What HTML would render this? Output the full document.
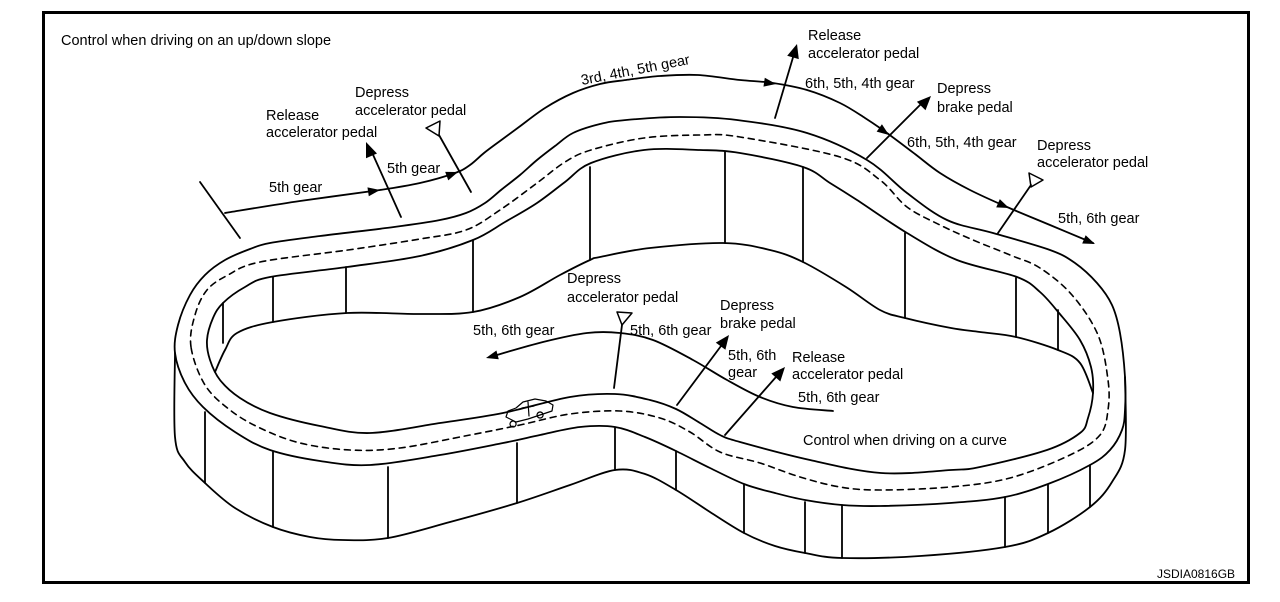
<!DOCTYPE html>
<html><head><meta charset="utf-8"><style>
html,body{margin:0;padding:0;background:#fff;}
svg{display:block;}
text{font-family:"Liberation Sans",Arial,sans-serif;font-size:14.5px;fill:#000;}
</style></head><body>
<svg id="sv" width="1280" height="602" viewBox="0 0 1280 602" xmlns="http://www.w3.org/2000/svg">
<defs>
<path id="ah" d="M0,0 L-12,-4.5 L-12,4.5 Z" fill="#000"/>
</defs>
<rect x="43.5" y="12.5" width="1205" height="570" fill="none" stroke="#000" stroke-width="3"/>
<g fill="none" stroke="#000" stroke-width="1.8" stroke-linejoin="round" stroke-linecap="round">
<polygon class="s" points="175,353 178,325 190,295 205,275 225,260 250,249 270,243 320,236 394,227 440,220 466,213 485,203 501,190 520,175 537,160 555,146 573,133 600,124 626,120 680,117 737,120 807,133 867,160 907,193 947,220 993,233 1050,250 1075,263 1097,283 1112,305 1120,333 1125,377 1125,410 1122,430 1110,450 1090,465 1048,484 1005,497 950,503 880,506 842,505 805,500 775,493 744,484 710,468 676,451 645,437 615,427 580,427 540,435 503,443 440,455 370,465 320,461 270,450 235,432 203,407 185,383"/>
<polygon class="s" points="207,340 213,318 223,303 245,287 270,277 347,267 420,256 473,240 505,222 537,203 565,182 591,163 644,150 700,150 740,153 803,167 830,183 857,200 907,233 957,260 1017,277 1040,292 1059,313 1080,340 1091,367 1093,393 1088,418 1080,433 1047,450 980,467 951,470 881,473 810,460 740,442 720,435 700,423 676,409 650,400 615,394 570,397 503,413 440,423 370,433 320,426 270,413 240,398 220,380 210,360"/>
<polyline class="s" points="215,372 225,350 237,333 273,322 347,313 420,314 473,312 520,297 560,275 590,260 600,257 650,248 723,243 770,250 803,262 846,287 880,310 905,318 951,328 980,332 1016,337 1058,350 1080,363 1093,393"/>
<polyline class="s" points="175,353 175,437 185,462 205,483 235,508 273,527 310,537 343,540 388,538 450,522 517,503 570,485 615,470 645,474 676,490 710,512 744,533 775,546 805,553 842,558 920,556 1005,547 1048,533 1090,507 1112,482 1125,450 1125,377"/>
<path d="M223,303V343 M273,277V322 M346,267V313 M473,240V312 M590,167V260 M725,152V243 M803,167V262 M905,233V318 M1016,278V337 M1058,310V350 M205,412V483 M273,452V527 M388,467V538 M517,443V503 M615,428V470 M676,451V490 M744,485V533 M805,502V553 M842,505V558 M1005,497V547 M1048,485V533 M1090,465V507"/>
<polygon class="s" stroke-dasharray="6 5" stroke-width="1.6" points="191,347 195,315 207,290 228,275 260,262 348,250 420,239 466,230 500,210 537,183 565,162 591,150 644,138 700,135 740,137 840,157 880,180 907,207 940,225 973,240 1010,255 1040,268 1072,295 1098,335 1108,380 1108,410 1100,435 1070,455 1010,478 950,487 880,490 840,487 800,477 760,463 720,452 690,432 660,418 620,411 570,414 520,425 470,435 400,448 350,450 300,443 260,428 230,410 205,385"/>
<line x1="200" y1="182" x2="240" y2="238"/>
<polyline class="s" points="225,213 300,201 380,190 420,183 455,173 470,165 484,153 500,141 519,127 545,108 573,93 600,84 626,80 660,76 698,75 740,80 773,83 807,90 840,103 865,118 887,133 915,154 940,173 970,190 1007,207 1050,225 1093,243"/>
<polyline class="s" points="833,411 793,407 760,397 727,380 693,360 653,340 620,333 587,333 543,342 490,357"/>
<line x1="401" y1="217" x2="370" y2="148"/>
<line x1="471" y1="192" x2="439" y2="135"/>
<line x1="775" y1="118" x2="794" y2="54"/>
<line x1="867" y1="158" x2="922" y2="103"/>
<line x1="998" y1="233" x2="1031" y2="185"/>
<line x1="614" y1="388" x2="622" y2="325"/>
<line x1="677" y1="405" x2="721" y2="346"/>
<line x1="725" y1="435" x2="776" y2="377"/>
<polygon points="426,128 440,121 439,136" stroke-width="1.5"/>
<polygon points="617,312 632,313 622,325" stroke-width="1.5"/>
<polygon points="1029,173 1043,180 1031,187" stroke-width="1.5"/>
<path stroke-width="1.2" d="M506,417 L508,411 L516,408 L523,402 L535,399 L546,401 L553,405 L552,411 L540,415 L528,419 L516,422 Z M513,421 a3,3 0 1 0 0.1,0 M540,412 a3,3 0 1 0 0.1,0 M528,402 L529,416 M522,408 L534,406"/>
</g>
<g fill="#000">
<polygon points="366,142 377,153.5 366,158.3"/>
<polygon points="797,44 798.8,59.1 787.2,55.7"/>
<polygon points="931,96 925.5,110.2 916.9,101.8"/>
<polygon points="729,335 725.4,349.8 715.8,342.6"/>
<polygon points="785,367 780.3,381.5 771.3,373.5"/>
</g>
<use href="#ah" transform="translate(380,190) rotate(-8.5)"/>
<use href="#ah" transform="translate(458,172) rotate(-20)"/>
<use href="#ah" transform="translate(776,84) rotate(8.5)"/>
<use href="#ah" transform="translate(889,135) rotate(36)"/>
<use href="#ah" transform="translate(1009,208) rotate(23.6)"/>
<use href="#ah" transform="translate(1095,244) rotate(22.7)"/>
<use href="#ah" transform="translate(486,358) rotate(165)"/>
<text x="61" y="45">Control when driving on an up/down slope</text>
<text x="266" y="120">Release</text>
<text x="266" y="137">accelerator pedal</text>
<text x="355" y="97">Depress</text>
<text x="355" y="115">accelerator pedal</text>
<text x="269" y="192">5th gear</text>
<text x="387" y="173">5th gear</text>
<text x="582" y="85" transform="rotate(-11 582 85)">3rd, 4th, 5th gear</text>
<text x="808" y="40">Release</text>
<text x="808" y="58">accelerator pedal</text>
<text x="805" y="88">6th, 5th, 4th gear</text>
<text x="937" y="93">Depress</text>
<text x="937" y="112">brake pedal</text>
<text x="907" y="147">6th, 5th, 4th gear</text>
<text x="1037" y="150">Depress</text>
<text x="1037" y="167">accelerator pedal</text>
<text x="1058" y="223">5th, 6th gear</text>
<text x="567" y="283">Depress</text>
<text x="567" y="302">accelerator pedal</text>
<text x="473" y="335">5th, 6th gear</text>
<text x="630" y="335">5th, 6th gear</text>
<text x="720" y="310">Depress</text>
<text x="720" y="328">brake pedal</text>
<text x="728" y="360">5th, 6th</text>
<text x="728" y="377">gear</text>
<text x="792" y="362">Release</text>
<text x="792" y="379">accelerator pedal</text>
<text x="798" y="402">5th, 6th gear</text>
<text x="803" y="445">Control when driving on a curve</text>
<text x="1157" y="578" style="font-size:12px">JSDIA0816GB</text>
</svg>
<script>
(function(){
var ns="http://www.w3.org/2000/svg";
var els=document.querySelectorAll(".s");
for(var k=0;k<els.length;k++){
var e=els[k];var closed=e.tagName.toLowerCase()==="polygon";
var nums=e.getAttribute("points").trim().split(/[\s,]+/).map(Number);
var p=[];for(var i=0;i<nums.length;i+=2)p.push([nums[i],nums[i+1]]);
var n=p.length;if(n<3)continue;
function g(i){if(closed)return p[(i+n)%n];return p[Math.max(0,Math.min(n-1,i))];}
var d="M"+p[0][0]+","+p[0][1];var segs=closed?n:n-1;
for(var i=0;i<segs;i++){
var p0=g(i-1),p1=g(i),p2=g(i+1),p3=g(i+2);
var c1=[p1[0]+(p2[0]-p0[0])/6,p1[1]+(p2[1]-p0[1])/6];
var c2=[p2[0]-(p3[0]-p1[0])/6,p2[1]-(p3[1]-p1[1])/6];
d+=" C"+c1[0].toFixed(1)+","+c1[1].toFixed(1)+" "+c2[0].toFixed(1)+","+c2[1].toFixed(1)+" "+p2[0]+","+p2[1];}
if(closed)d+=" Z";
var path=document.createElementNS(ns,"path");
path.setAttribute("d",d);
["stroke-dasharray","stroke-width"].forEach(function(a){if(e.getAttribute(a))path.setAttribute(a,e.getAttribute(a));});
e.parentNode.replaceChild(path,e);}
})();
</script>
</body></html>
